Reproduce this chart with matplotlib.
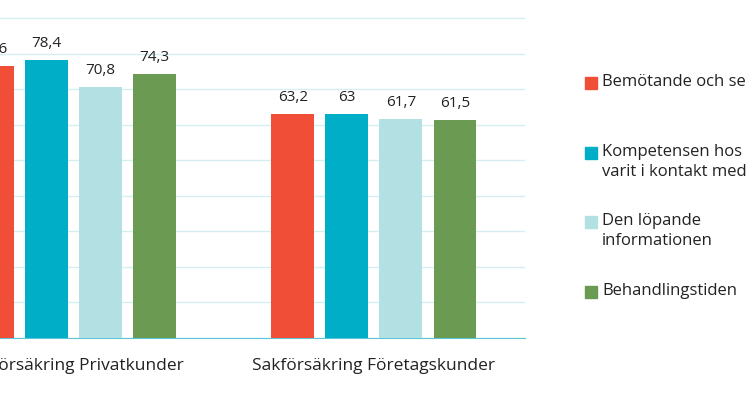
import matplotlib
matplotlib.use("Agg")
import matplotlib.pyplot as plt
from matplotlib.patches import Rectangle

plt.rcParams['font.family'] = ['Open Sans', 'DejaVu Sans']

categories = ["Sakförsäkring Privatkunder", "Sakförsäkring Företagskunder"]
series = ["Bemötande och service", "Kompetensen hos den du har\nvarit i kontakt med",
          "Den löpande\ninformationen", "Behandlingstiden"]
values = [[76.6, 63.2], [78.4, 63.0], [70.8, 61.7], [74.3, 61.5]]
colors = ["#F04E37", "#00AEC7", "#B3E1E3", "#6B9B52"]

fig = plt.figure(figsize=(7.46, 4.19), dpi=100)
ax = fig.add_axes([0, 81/419, 525/746, 338/419])
step, width = 0.18, 0.143
for i, (s, vals, c) in enumerate(zip(series, values, colors)):
    xs = [g + (i - 1.5) * step for g in range(len(categories))]
    ax.bar(xs, vals, width=width, color=c, zorder=3)
    for x, v in zip(xs, vals):
        lab = (f"{v:g}").replace(".", ",")
        ax.text(x, v + 2.5, lab, ha="center", va="bottom", fontsize=11, color="#222")
ax.set_xlim(-0.245, 1.503)
ax.set_ylim(0, 95.2)
ax.set_yticks(range(0, 91, 10))
ax.yaxis.grid(True, color="#D6EEF2", lw=1, zorder=0)
ax.tick_params(left=False, labelleft=False, bottom=False)
ax.set_xticks(range(len(categories)))
ax.set_xticklabels(categories, fontsize=12.5, color="#222")
ax.tick_params(axis="x", pad=11)
for sp in ["top", "right", "left"]:
    ax.spines[sp].set_visible(False)
ax.spines["bottom"].set_color("#5CC6D6")

ys = [83, 153, 222, 292]
for y, s, c in zip(ys, series, colors):
    fig.patches.append(Rectangle((585/746, 1 - (y + 6) / 419), 12/746, 12/419,
                                 color=c, transform=fig.transFigure))
    fig.text(602/746, 1 - (y - 9) / 419, s, ha="left", va="top", fontsize=12,
             color="#222", linespacing=1.3)

fig.savefig("out.png", dpi=100)
